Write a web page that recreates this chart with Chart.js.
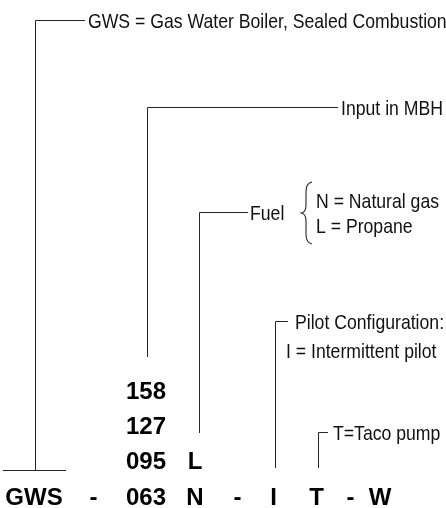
<!DOCTYPE html>
<html>
<head>
<meta charset="utf-8">
<style>
  body { margin: 0; background: #fff; }
  #chart { display: block; }
</style>
<script src="https://cdn.jsdelivr.net/npm/chart.js@4.4.1/dist/chart.umd.min.js"></script>
</head>
<body>
<canvas id="chart" width="446" height="508"></canvas>
<script>
// Model number parts (bottom row) and the options stacked above them
const codeParts = ['GWS', '-', '063', 'N', '-', 'I', 'T', '-', 'W'];
const inputOptions = ['095', '127', '158'];
const fuelOptions = ['L'];

// Leader labels
const gwsLabel = 'GWS = Gas Water Boiler, Sealed Combustion';
const inputLabel = 'Input in MBH';
const fuelLabel = 'Fuel';
const fuelChoices = ['N = Natural gas', 'L = Propane'];
const pilotLabel = ['Pilot Configuration:', 'I = Intermittent pilot'];
const pumpLabel = 'T=Taco pump';

// Layout in diagram units (x 0..446, y 0..508 top-down)
const codeX = [34, 93.5, 146, 195, 237.5, 273.5, 316.5, 350.5, 380];
const codeY = 496;
const optionRowY = [460, 425, 390];

const leaderX = [35, 147, 199, 275, 318];
const leaderTop = [20, 107, 212, 321, 432];
const leaderBottom = [470, 357, 433, 468, 468];
const leaderEnd = [85, 338, 248, 288, 328];

const LINE = '#262626';
const THIN = 0.84; // horizontal squeeze for the condensed label font
const H = 0.5;     // half pixel so 1px lines land crisp

// Build leader polylines
const datasets = leaderX.map((x, i) => ({
  data: [
    { x: x + H, y: leaderBottom[i] },
    { x: x + H, y: leaderTop[i] + H },
    { x: leaderEnd[i], y: leaderTop[i] + H }
  ],
  showLine: true,
  borderColor: LINE,
  borderWidth: 1,
  pointRadius: 0,
  fill: false
}));
// base bar under the GWS leader
datasets.push({
  data: [{ x: 3, y: 470 + H }, { x: 66, y: 470 + H }],
  showLine: true,
  borderColor: LINE,
  borderWidth: 1,
  pointRadius: 0
});

const labelPlugin = {
  id: 'labels',
  afterDatasetsDraw(chart) {
    const ctx = chart.ctx;
    const sx = chart.scales.x, sy = chart.scales.y;
    const px = v => sx.getPixelForValue(v);
    const py = v => sy.getPixelForValue(v);

    function bold(text, x, y) {
      ctx.save();
      ctx.font = 'bold 24px "Liberation Sans", Arial, sans-serif';
      ctx.fillStyle = '#000';
      ctx.textAlign = 'center';
      ctx.textBaseline = 'alphabetic';
      ctx.fillText(text, px(x), py(y) + 8.6);
      ctx.restore();
    }
    function thin(text, x, y) {
      ctx.save();
      ctx.font = '21px "Liberation Sans", Arial, sans-serif';
      ctx.fillStyle = '#111';
      ctx.textAlign = 'left';
      ctx.textBaseline = 'alphabetic';
      ctx.translate(px(x), py(y) + 7.5);
      ctx.scale(THIN, 1);
      ctx.fillText(text, 0, 0);
      ctx.restore();
    }

    codeParts.forEach((t, i) => bold(t, codeX[i], codeY));
    inputOptions.forEach((t, i) => bold(t, codeX[2], optionRowY[i]));
    fuelOptions.forEach((t, i) => bold(t, codeX[3], optionRowY[i]));

    thin(gwsLabel, 88, leaderTop[0]);
    thin(inputLabel, 341, leaderTop[1]);
    thin(fuelLabel, 250, leaderTop[2]);
    thin(fuelChoices[0], 316, 200);
    thin(fuelChoices[1], 316, 225);
    thin(pilotLabel[0], 295, leaderTop[3]);
    thin(pilotLabel[1], 286, 350);
    thin(pumpLabel, 333, leaderTop[4]);

    // curly brace next to "Fuel"
    ctx.save();
    ctx.strokeStyle = LINE;
    ctx.lineWidth = 1.1;
    ctx.beginPath();
    ctx.moveTo(px(312), py(182));
    ctx.quadraticCurveTo(px(306), py(183), px(306), py(192));
    ctx.lineTo(px(306), py(205));
    ctx.quadraticCurveTo(px(306), py(212), px(301.5), py(213));
    ctx.quadraticCurveTo(px(306), py(214), px(306), py(221));
    ctx.lineTo(px(306), py(234));
    ctx.quadraticCurveTo(px(306), py(243), px(312), py(244));
    ctx.stroke();
    ctx.restore();
  }
};

new Chart(document.getElementById('chart'), {
  type: 'scatter',
  data: { datasets: datasets },
  options: {
    responsive: false,
    animation: false,
    layout: { padding: 0 },
    plugins: { legend: { display: false }, tooltip: { enabled: false } },
    scales: {
      x: { type: 'linear', min: 0, max: 446, display: false },
      y: { type: 'linear', min: 0, max: 508, reverse: true, display: false }
    }
  },
  plugins: [labelPlugin]
});
</script>
</body>
</html>
